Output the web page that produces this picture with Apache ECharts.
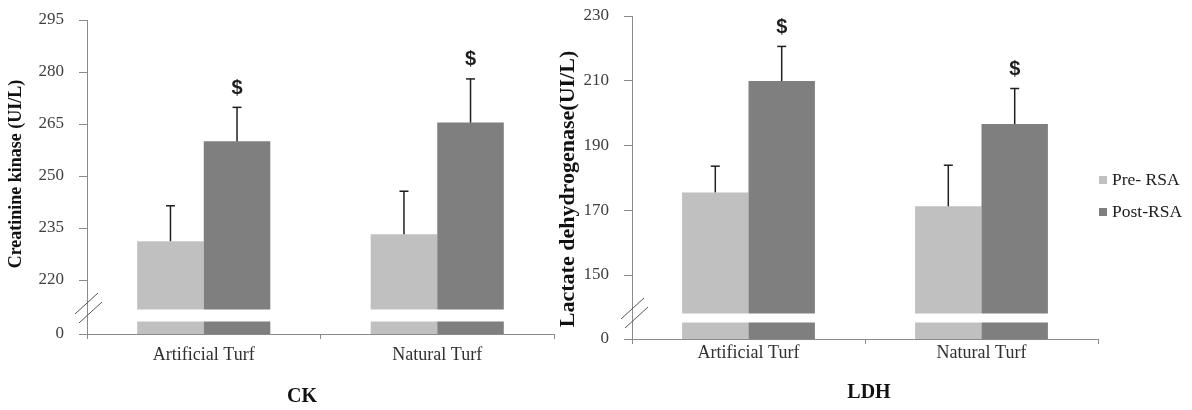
<!DOCTYPE html>
<html><head><meta charset="utf-8">
<script src="https://cdn.jsdelivr.net/npm/echarts@6/dist/echarts.min.js"></script>
<style>html,body{margin:0;padding:0;background:#fff}#c{width:1192px;height:410px}</style>
</head><body><div id="c"></div>
<script>
// ---- data ----
const categories = ['Artificial Turf', 'Natural Turf'];
const seriesNames = ['Pre- RSA', 'Post-RSA'];
const ckPre = [231.2, 233.2];
const ckPreErr = [10.2, 12.4];
const ckPost = [260.0, 265.4];
const ckPostErr = [9.8, 12.6];
const ldhPre = [175.5, 171.2];
const ldhPreErr = [8.1, 12.7];
const ldhPost = [209.9, 196.6];
const ldhPostErr = [10.7, 11.0];
const ckSig = ['$', '$'];
const ldhSig = ['$', '$'];
const ckTicks = [0, 220, 235, 250, 265, 280, 295];
const ldhTicks = [0, 150, 170, 190, 210, 230];
const ckBreak = [3.75, 211.6];
const ldhBreak = [5.1, 138.2];
const panelTitles = ['CK', 'LDH'];
const yTitles = ['Creatinine kinase (UI/L)', 'Lactate dehydrogenase(UI/L)'];

// ---- style ----
const SERIF = "'Liberation Serif','Times New Roman',serif";
const BAR_W = 0.285;
const PRE_COLOR = '#c0c0c0';
const POST_COLOR = '#7f7f7f';
const AXIS_COLOR = '#8a8a8a';

const chart = echarts.init(document.getElementById('c'), null, {renderer: 'canvas'});

function errSeries(gridIdx, side, vals, errs, sigs) {
  return {
    type: 'custom', xAxisIndex: gridIdx, yAxisIndex: gridIdx, z: 10, clip: false,
    silent: true,
    data: vals.map((v, i) => [i, v, errs[i]]),
    renderItem: function (params, api) {
      const i = api.value(0), v = api.value(1), e = api.value(2);
      const band = api.size([1, 0])[0];
      const off = side * band * BAR_W / 2;
      const p0 = api.coord([i, v]);
      const p1 = api.coord([i, v + e]);
      const x = p0[0] + off;
      const st = {stroke: '#1f1f1f', lineWidth: 1.5};
      const children = [
        {type: 'line', shape: {x1: x, y1: p0[1], x2: x, y2: p1[1]}, style: st},
        {type: 'line', shape: {x1: x - 4.5, y1: p1[1], x2: x + 4.5, y2: p1[1]}, style: st}
      ];
      const s = sigs ? sigs[params.dataIndex] : '';
      if (s) {
        children.push({type: 'text', x: x, y: p1[1] - 19, style: {
          text: s, align: 'center', verticalAlign: 'middle',
          font: "bold 20px 'Liberation Sans', Arial, sans-serif", fill: '#1f1f1f'}});
      }
      return {type: 'group', children: children};
    }
  };
}

function yAxisCfg(gridIdx, ticks, brk, gapPct) {
  return {
    type: 'value', gridIndex: gridIdx, min: ticks[0], max: ticks[ticks.length - 1],
    breaks: [{start: brk[0], end: brk[1], gap: gapPct}],
    breakArea: {show: true, expandOnClick: false, zigzagAmplitude: 0,
      itemStyle: {color: '#ffffff', borderColor: '#ffffff', borderWidth: 0, opacity: 1}},
    axisLine: {show: true, lineStyle: {color: AXIS_COLOR, width: 1}},
    axisTick: {show: true, length: 8, customValues: ticks, lineStyle: {color: AXIS_COLOR}},
    axisLabel: {customValues: ticks, margin: 23, fontFamily: SERIF, fontSize: 17, color: '#404040'},
    splitLine: {show: false}
  };
}

function xAxisCfg(gridIdx, margin) {
  return {
    type: 'category', gridIndex: gridIdx, data: categories, boundaryGap: true,
    axisLine: {show: true, lineStyle: {color: AXIS_COLOR}},
    axisTick: {show: true, length: 5, alignWithLabel: false, lineStyle: {color: AXIS_COLOR}},
    axisLabel: {margin: margin, fontFamily: SERIF, fontSize: 18, color: '#303030'}
  };
}

function barSeries(gridIdx, name, vals, color) {
  return {
    type: 'bar', name: name, xAxisIndex: gridIdx, yAxisIndex: gridIdx,
    data: vals, barWidth: (BAR_W * 100) + '%', barGap: '0%',
    itemStyle: {color: color}, z: 2
  };
}

// decorations drawn on an upper layer: y-axis line through the break + "//" marks
const overlay = [];
function addBreakMarks(axisX, y1, y2, x, y) {
  overlay.push({type: 'line', zlevel: 1, shape: {x1: axisX, y1: y1, x2: axisX, y2: y2},
    style: {stroke: AXIS_COLOR, lineWidth: 1}});
  [[0, 0], [4, 9]].forEach(d => {
    overlay.push({type: 'line', zlevel: 1,
      shape: {x1: x + d[0], y1: y + d[1], x2: x + d[0] + 23, y2: y + d[1] - 21},
      style: {stroke: '#555', lineWidth: 1}});
  });
}
addBreakMarks(87.5, 295, 330, 75, 314);
addBreakMarks(632.5, 300, 335, 621, 319);

const option = {
  animation: false,
  backgroundColor: '#fff',
  grid: [
    {left: 87, top: 20, width: 467, height: 314},
    {left: 632, top: 16, width: 466, height: 323}
  ],
  legend: {
    data: seriesNames, orient: 'vertical', left: 1099, top: 171, padding: 0,
    icon: 'rect', itemWidth: 8, itemHeight: 8, itemGap: 14,
    textStyle: {fontFamily: SERIF, fontSize: 17.5, color: '#202020'}
  },
  xAxis: [xAxisCfg(0, 12), xAxisCfg(1, 5)],
  yAxis: [yAxisCfg(0, ckTicks, ckBreak, '3.8%'), yAxisCfg(1, ldhTicks, ldhBreak, '2.9%')],
  series: [
    barSeries(0, seriesNames[0], ckPre, PRE_COLOR),
    barSeries(0, seriesNames[1], ckPost, POST_COLOR),
    barSeries(1, seriesNames[0], ldhPre, PRE_COLOR),
    barSeries(1, seriesNames[1], ldhPost, POST_COLOR),
    errSeries(0, -1, ckPre, ckPreErr, null),
    errSeries(0, 1, ckPost, ckPostErr, ckSig),
    errSeries(1, -1, ldhPre, ldhPreErr, null),
    errSeries(1, 1, ldhPost, ldhPostErr, ldhSig)
  ],
  graphic: overlay.concat([
    {type: 'text', x: 302, y: 397, style: {text: panelTitles[0], align: 'center', verticalAlign: 'middle',
      font: "bold 20px " + SERIF, fill: '#111'}},
    {type: 'text', x: 869, y: 393, style: {text: panelTitles[1], align: 'center', verticalAlign: 'middle',
      font: "bold 20px " + SERIF, fill: '#111'}},
    {type: 'text', x: 16, y: 174, rotation: Math.PI / 2, style: {text: yTitles[0], align: 'center', verticalAlign: 'middle',
      font: "bold 18px " + SERIF, fill: '#111'}},
    {type: 'text', x: 568, y: 189, rotation: Math.PI / 2, style: {text: yTitles[1], align: 'center', verticalAlign: 'middle',
      font: "bold 22px " + SERIF, fill: '#111'}}
  ])
};
chart.setOption(option);
</script>
</body></html>
